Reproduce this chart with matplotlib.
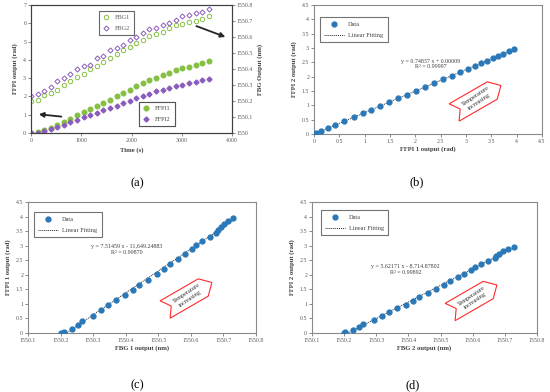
import numpy as np
import matplotlib

matplotlib.use("Agg")

import matplotlib.pyplot as plt
from matplotlib.patches import Polygon
from matplotlib.ticker import FuncFormatter, MultipleLocator

# time axis of panel (a), s
time_s = [0, 131, 262, 393, 524, 655, 786, 917, 1048, 1179, 1310, 1441, 1572, 1703,
          1834, 1965, 2096, 2227, 2358, 2489, 2620, 2751, 2882, 3013, 3144, 3275, 3406, 3537]

# interferometer phase outputs, rad
ffpi1 = [0.00, 0.03, 0.14, 0.27, 0.42, 0.60, 0.79, 0.96, 1.13, 1.30, 1.48, 1.66, 1.83, 2.01,
         2.19, 2.37, 2.55, 2.72, 2.88, 3.03, 3.17, 3.30, 3.42, 3.53, 3.63, 3.74, 3.85, 3.95]
ffpi2 = [0.00, 0.02, 0.10, 0.20, 0.31, 0.45, 0.59, 0.72, 0.85, 0.97, 1.11, 1.24, 1.37, 1.50,
         1.64, 1.77, 1.91, 2.03, 2.15, 2.27, 2.37, 2.47, 2.56, 2.64, 2.72, 2.80, 2.88, 2.96]

# grating wavelengths, nm
fbg1 = [1550.200, 1550.209, 1550.236, 1550.253, 1550.267, 1550.300, 1550.325, 1550.347,
        1550.371, 1550.398, 1550.421, 1550.441, 1550.467, 1550.495, 1550.518, 1550.537,
        1550.562, 1550.583, 1550.604, 1550.617, 1550.633, 1550.659, 1550.677, 1550.684,
        1550.692, 1550.701, 1550.714, 1550.730]
fbg2_time = [1550.233, 1550.245, 1550.265, 1550.290, 1550.326, 1550.341, 1550.370, 1550.400,
             1550.421, 1550.423, 1550.467, 1550.480, 1550.518, 1550.530, 1550.552, 1550.581,
             1550.598, 1550.623, 1550.648, 1550.657, 1550.678, 1550.686, 1550.707, 1550.733,
             1550.737, 1550.753, 1550.758, 1550.775]
fbg2 = [1550.200, 1550.203, 1550.229, 1550.246, 1550.260, 1550.293, 1550.319, 1550.339,
        1550.365, 1550.392, 1550.414, 1550.434, 1550.460, 1550.487, 1550.510, 1550.529,
        1550.553, 1550.574, 1550.594, 1550.608, 1550.625, 1550.649, 1550.668, 1550.673,
        1550.682, 1550.694, 1550.711, 1550.729]

fit_text_b = "y = 0.74837 x + 0.00009\nR\u00b2 = 0.99997"
fit_text_c = "y = 7.51459 x - 11,649.24883\nR\u00b2 = 0.99870"
fit_text_d = "y = 5.62171 x - 8,714.87802\nR\u00b2 = 0.99892"

GREEN = "#86c043"
PURPLE = "#8a5cbd"
BLUE = "#2a78b8"
TICK_C = "#595959"
LABEL_C = "#404040"

plt.rcParams["font.family"] = ["Liberation Serif", "DejaVu Serif"]

W, H = 550, 392
fig = plt.figure(figsize=(5.5, 3.92), dpi=100)


def px_axes(left, top, right, bottom):
    return fig.add_axes([left / W, 1 - bottom / H, (right - left) / W, (bottom - top) / H])


def style_axes(ax, spine_color):
    for s in ax.spines.values():
        s.set_color(spine_color)
        s.set_linewidth(0.8)
    ax.tick_params(labelsize=4.2, colors=TICK_C, length=2, width=0.5, pad=1.5)


def trim(v, _pos):
    return f"{v:g}"


def temp_arrow(cx, cy, angle=30):
    th = np.deg2rad(angle)
    shape = np.array([[-27, 10], [17, 10], [27, 0], [17, -10], [-27, -10], [-20, 0]])
    rot = np.array([[np.cos(th), -np.sin(th)], [np.sin(th), np.cos(th)]])
    pts = shape @ rot.T
    pts[:, 0] = (cx + pts[:, 0]) / 100
    pts[:, 1] = (H - cy + pts[:, 1]) / 100
    fig.add_artist(Polygon(pts, closed=True, facecolor="white", edgecolor="#ff2a2a",
                           linewidth=0.8, transform=fig.dpi_scale_trans))
    fig.text(cx / W, 1 - cy / H, "Temperature\nincreasing", rotation=angle + 4,
             ha="center", va="center", fontsize=4.5, color="#333333", linespacing=1.3,
             rotation_mode="anchor")


def fit_panel(ax, x, y, xlabel, ylabel, text, text_pos, leg_anchor):
    x = np.asarray(x)
    y = np.asarray(y)
    ax.plot(x, y, "o", color=BLUE, markersize=3.5, label="Data", zorder=3)
    k, b = np.polyfit(x, y, 1)
    xx = np.array([x.min(), x.max()])
    ax.plot(xx, k * xx + b, color="#222222", linestyle=(0, (1, 1)), linewidth=0.7,
            label="Linear Fitting", zorder=2)
    ax.set_ylim(0, 4.5)
    ax.yaxis.set_major_locator(MultipleLocator(0.5))
    ax.yaxis.set_major_formatter(FuncFormatter(trim))
    ax.set_xlabel(xlabel, fontsize=4.8, fontweight="bold", color=LABEL_C, labelpad=2)
    ax.set_ylabel(ylabel, fontsize=4.8, fontweight="bold", color=LABEL_C, labelpad=3)
    ax.text(text_pos[0], text_pos[1], text, transform=ax.transAxes, ha="center",
            va="center", fontsize=4.3, color=LABEL_C, linespacing=1.2)
    leg = ax.legend(loc="upper left", bbox_to_anchor=leg_anchor, fontsize=4.5,
                    fancybox=False, edgecolor="#505050", handlelength=3.2,
                    borderpad=0.7, labelspacing=0.9, borderaxespad=0, handletextpad=0.6)
    leg.get_frame().set_linewidth(0.8)
    for t in leg.get_texts():
        t.set_color(LABEL_C)
    style_axes(ax, "#8a8a8a")


# (a) time response
ax_a = px_axes(31, 5, 232, 133)
ax_r = ax_a.twinx()
l1, = ax_a.plot(time_s, ffpi1, "o", color=GREEN, markersize=3.3, label="FFPI1")
l2, = ax_a.plot(time_s, ffpi2, "D", color=PURPLE, markersize=2.5, label="FFPI2")
r1, = ax_r.plot(time_s, fbg1, "o", mfc="none", mec=GREEN, mew=0.7, markersize=3.2, label="FBG1")
r2, = ax_r.plot(time_s, fbg2_time, "D", mfc="none", mec=PURPLE, mew=0.7, markersize=2.6,
                label="FBG2")
ax_a.set_xlim(0, 4000)
ax_a.set_ylim(0, 7)
ax_r.set_ylim(1550, 1550.8)
ax_a.xaxis.set_major_locator(MultipleLocator(1000))
ax_a.yaxis.set_major_locator(MultipleLocator(1))
ax_r.yaxis.set_major_locator(MultipleLocator(0.1))
ax_r.yaxis.set_major_formatter(FuncFormatter(lambda v, p: f"{v:.1f}".rstrip("0").rstrip(".")))
ax_a.set_xlabel("Time (s)", fontsize=4.8, fontweight="bold", color=LABEL_C, labelpad=3)
ax_a.set_ylabel("FFPI output (rad)", fontsize=4.8, fontweight="bold", color=LABEL_C, labelpad=4)
ax_r.set_ylabel("FBG Output (nm)", fontsize=4.8, fontweight="bold", color=LABEL_C, labelpad=3)
style_axes(ax_a, "#404040")
style_axes(ax_r, "#404040")
for handles, anchor in (([r1, r2], (0.338, 0.953)), ([l1, l2], (0.537, 0.242))):
    leg = ax_r.legend(handles=handles, loc="upper left", bbox_to_anchor=anchor, fontsize=4.5,
                      fancybox=False, edgecolor="#404040", handlelength=1.2, borderpad=0.6,
                      labelspacing=0.9, borderaxespad=0, handletextpad=0.8)
    leg.get_frame().set_linewidth(0.8)
    for t in leg.get_texts():
        t.set_color(TICK_C)
    ax_r.add_artist(leg)
arrow_kw = dict(arrowstyle="-|>", color="#262626", lw=1.3, mutation_scale=7)
ax_a.annotate("", xy=(100, 1.04), xytext=(660, 0.88), arrowprops=arrow_kw)
ax_a.annotate("", xy=(3920, 5.2), xytext=(3240, 5.9), arrowprops=arrow_kw)

# (b) FFPI2 vs FFPI1
ax_b = px_axes(314, 5, 542, 134)
fit_panel(ax_b, ffpi1, ffpi2, "FFPI 1 output (rad)", "FFPI 2 output (rad)", fit_text_b,
          (0.513, 0.543), (0.026, 0.907))
ax_b.set_xlim(0, 4.5)
ax_b.xaxis.set_major_locator(MultipleLocator(0.5))
ax_b.xaxis.set_major_formatter(FuncFormatter(trim))

# (c) FFPI1 vs FBG1
ax_c = px_axes(28, 202, 256, 333)
fit_panel(ax_c, fbg1, ffpi1, "FBG 1 output (nm)", "FFPI 1 output (rad)", fit_text_c,
          (0.434, 0.636), (0.026, 0.924))

# (d) FFPI2 vs FBG2
ax_d = px_axes(312, 202, 537, 333)
fit_panel(ax_d, fbg2, ffpi2, "FBG 2 output (nm)", "FFPI 2 output (rad)", fit_text_d,
          (0.415, 0.483), (0.039, 0.939))

for ax in (ax_c, ax_d):
    ax.set_xlim(1550.1, 1550.8)
    ax.xaxis.set_major_locator(MultipleLocator(0.1))
    ax.xaxis.set_major_formatter(FuncFormatter(lambda v, p: f"{v:.1f}"))

temp_arrow(477.5, 99)
temp_arrow(188.5, 296)
temp_arrow(473.5, 298.5)

for label, x, y in (("(a)", 137, 183), ("(b)", 417, 182), ("(c)", 137, 385), ("(d)", 413, 385)):
    fig.text(x / W, 1 - y / H, label, ha="center", va="center", fontsize=9, color="black")

fig.savefig("out.png", dpi=100)
